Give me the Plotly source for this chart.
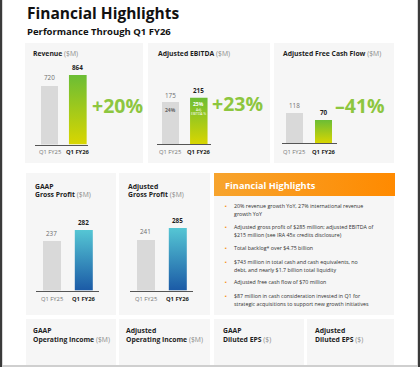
import plotly.graph_objects as go

W, H = 420, 367
def X(p): return p / W
def Y(p): return 1 - p / H

FONT = "Open Sans"

# ---------------- data ----------------
periods = ["Q1 FY25", "Q1 FY26"]
revenue = [720, 864]
adj_ebitda = [175, 215]
adj_ebitda_margin = ["24%", "25%"]
adj_fcf = [118, 70]
gaap_gross_profit = [237, 282]
adj_gross_profit = [241, 285]
revenue_change = "+20%"
ebitda_change = "+23%"
fcf_change = "–41%"

highlights = [
    ["20% revenue growth YoY, 27% international revenue", "growth YoY"],
    ["Adjusted gross profit of $285 million; adjusted EBITDA of", "$215 million (see IRA 45x credits disclosure)"],
    ["Total backlog* over $4.75 billion"],
    ["$743 million in total cash and cash equivalents, no", "debt, and nearly $1.7 billion total liquidity"],
    ["Adjusted free cash flow of $70 million"],
    ["$87 million in cash consideration invested in Q1 for", "strategic acquisitions to support new growth initiatives"],
]

bottom_titles = [
    ("GAAP", "Operating Income", "($M)"),
    ("Adjusted", "Operating Income", "($M)"),
    ("GAAP", "Diluted EPS", "($)"),
    ("Adjusted", "Diluted EPS", "($)"),
]

# ---------------- styles ----------------
GRAY_BAR = "#d9d9d9"
GREEN_SCALE = [[0, "#d9d600"], [1, "#6bbd35"]]
BLUE_SCALE = [[0, "#1b5aa6"], [1, "#55c6d4"]]
GREEN_TXT = "#8dc63f"
PANEL = "#f6f6f6"
DARK = "#1e1e1e"
MUTED = "#8a8a8a"

charts = [
    dict(title=("Revenue", "($M)"), tx=31, ty=[54], data=revenue, change=revenue_change,
         chx=117, chy=105, scale=GREEN_SCALE,
         xl=35, xr=88, yb=144.5, c0=49.5, c1=77.8, bw=17.7, p0=85, p1=75, lbl=152),
    dict(title=("Adjusted EBITDA", "($M)"), tx=156, ty=[54], data=adj_ebitda, change=ebitda_change,
         chx=237, chy=104, scale=GREEN_SCALE,
         xl=157, xr=211, yb=144.3, c0=170.3, c1=198.8, bw=17.5, p0=102.7, p1=97.7, lbl=152),
    dict(title=("Adjusted Free Cash Flow", "($M)"), tx=281, ty=[54], data=adj_fcf, change=fcf_change,
         chx=360, chy=105, scale=GREEN_SCALE,
         xl=282, xr=337, yb=143.3, c0=294.2, c1=323.5, bw=17, p0=113, p1=120, lbl=152),
    dict(title=("GAAP", "Gross Profit", "($M)"), tx=33, ty=[186, 194], data=gaap_gross_profit, change=None,
         scale=BLUE_SCALE,
         xl=36, xr=99, yb=290.5, c0=51.7, c1=83.8, bw=18, p0=240.7, p1=230, lbl=299),
    dict(title=("Adjusted", "Gross Profit", "($M)"), tx=126, ty=[186, 194], data=adj_gross_profit, change=None,
         scale=BLUE_SCALE,
         xl=130, xr=193, yb=290.5, c0=145.8, c1=177.8, bw=18, p0=239, p1=228, lbl=299),
]

fig = go.Figure()
shapes = []
annotations = []

# page frame
shapes.append(dict(type="rect", xref="paper", yref="paper", x0=X(0), x1=X(2.2), y0=Y(367), y1=Y(0),
                   fillcolor="#3a3a3a", line_width=0, layer="below"))
shapes.append(dict(type="rect", xref="paper", yref="paper", x0=X(417.8), x1=X(420), y0=Y(367), y1=Y(0),
                   fillcolor="#3a3a3a", line_width=0, layer="below"))
shapes.append(dict(type="rect", xref="paper", yref="paper", x0=X(2), x1=X(418), y0=Y(367), y1=Y(365),
                   fillcolor="#cfcfcf", line_width=0, layer="below"))

panels = [(25, 43, 143, 163), (148, 43, 270, 163), (274, 43, 394, 163),
          (26, 173, 116, 315), (119, 173, 210, 315), (214, 173, 394, 315),
          (26, 319, 116, 365), (119, 319, 210, 365), (214, 319, 304, 365), (307, 319, 394, 365)]
for (a, b, c, d) in panels:
    shapes.append(dict(type="rect", xref="paper", yref="paper", x0=X(a), x1=X(c), y0=Y(d), y1=Y(b),
                       fillcolor=PANEL, line_width=0, layer="below"))

# page titles
annotations.append(dict(text="<b>Financial Highlights</b>", x=X(25), y=Y(12.5), xref="paper", yref="paper",
                        xanchor="left", yanchor="middle", showarrow=False,
                        font=dict(family=FONT, size=15.5, color="#111")))
annotations.append(dict(text="<b>Performance Through Q1 FY26</b>", x=X(25), y=Y(31), xref="paper", yref="paper",
                        xanchor="left", yanchor="middle", showarrow=False,
                        font=dict(family=FONT, size=9.5, color="#111")))

def title_ann(x, ys, parts):
    if len(ys) == 1:
        lines = [f"<b>{parts[0]}</b> <span style='color:{MUTED}'>{parts[1]}</span>"]
    else:
        lines = [f"<b>{parts[0]}</b>", f"<b>{parts[1]}</b> <span style='color:{MUTED}'>{parts[2]}</span>"]
    for yy, t in zip(ys, lines):
        annotations.append(dict(text=t, x=X(x), y=Y(yy), xref="paper", yref="paper",
                                xanchor="left", yanchor="middle", showarrow=False,
                                font=dict(family=FONT, size=6.8, color=DARK)))

layout_axes = {}
for i, ch in enumerate(charts):
    n = i + 1
    xa = "x" if n == 1 else f"x{n}"
    ya = "y" if n == 1 else f"y{n}"
    v0, v1 = ch["data"]
    unit = ch["c1"] - ch["c0"]
    k = (ch["p0"] - ch["p1"]) / (v1 - v0)
    base = v1 - (ch["yb"] - ch["p1"]) / k
    yt = ch["yb"] - 80
    w = ch["bw"] / unit
    layout_axes["xaxis" if n == 1 else f"xaxis{n}"] = dict(
        domain=[X(ch["xl"]), X(ch["xr"])], range=[(ch["xl"] - ch["c0"]) / unit, (ch["xr"] - ch["c0"]) / unit],
        anchor=ya, showgrid=False, zeroline=False, showticklabels=False, ticks="",
        showline=True, linecolor="#555", linewidth=1, fixedrange=True)
    layout_axes["yaxis" if n == 1 else f"yaxis{n}"] = dict(
        domain=[Y(ch["yb"]), Y(yt)], range=[base, base + (ch["yb"] - yt) / k],
        anchor=xa, showgrid=False, zeroline=False, showticklabels=False, ticks="", showline=False,
        fixedrange=True)

    fig.add_trace(go.Bar(x=[0], y=[v0 - base], base=[base], width=[w], marker_color=GRAY_BAR,
                         marker_line_width=0, xaxis=xa, yaxis=ya, showlegend=False, hoverinfo="skip"))
    fig.add_trace(go.Scatter(x=[1 - w / 2, 1 + w / 2, 1 + w / 2, 1 - w / 2, 1 - w / 2],
                             y=[base, base, v1, v1, base], mode="lines", fill="toself",
                             line=dict(width=0), fillgradient=dict(type="vertical", colorscale=ch["scale"]),
                             xaxis=xa, yaxis=ya, showlegend=False, hoverinfo="skip"))
    # value labels
    annotations.append(dict(text=str(v0), x=0, y=v0, xref=xa, yref=ya, xanchor="center", yanchor="bottom",
                            yshift=1, showarrow=False, font=dict(family=FONT, size=6.3, color="#6e6e6e")))
    annotations.append(dict(text=f"<b>{v1}</b>", x=1, y=v1, xref=xa, yref=ya, xanchor="center", yanchor="bottom",
                            yshift=1, showarrow=False, font=dict(family=FONT, size=6.3, color=DARK)))
    # category labels
    annotations.append(dict(text=periods[0], x=0, y=Y(ch["lbl"]), xref=xa, yref="paper", xanchor="center",
                            yanchor="middle", showarrow=False, font=dict(family=FONT, size=5.8, color="#777")))
    annotations.append(dict(text=f"<b>{periods[1]}</b>", x=1, y=Y(ch["lbl"]), xref=xa, yref="paper",
                            xanchor="center", yanchor="middle", showarrow=False,
                            font=dict(family=FONT, size=5.8, color=DARK)))
    title_ann(ch["tx"], ch["ty"], ch["title"])
    if ch["change"]:
        annotations.append(dict(text=f"<b>{ch['change']}</b>", x=X(ch["chx"]), y=Y(ch["chy"]), xref="paper",
                                yref="paper", xanchor="center", yanchor="middle", showarrow=False,
                                font=dict(family=FONT, size=19.5, color=GREEN_TXT)))
    if n == 2:
        annotations.append(dict(text=f"<b>{adj_ebitda_margin[0]}</b>", x=0, y=Y(110), xref=xa, yref="paper",
                                xanchor="center", yanchor="middle", showarrow=False,
                                font=dict(family=FONT, size=5, color="#666")))
        annotations.append(dict(text=f"<b>{adj_ebitda_margin[1]}</b>", x=1, y=Y(104.3), xref=xa, yref="paper",
                                xanchor="center", yanchor="middle", showarrow=False,
                                font=dict(family=FONT, size=5, color="white")))
        annotations.append(dict(text="Adj.", x=1, y=Y(109.5), xref=xa, yref="paper",
                                xanchor="center", yanchor="middle", showarrow=False,
                                font=dict(family=FONT, size=3.4, color="white")))
        annotations.append(dict(text="EBITDA %", x=1, y=Y(113.5), xref=xa, yref="paper",
                                xanchor="center", yanchor="middle", showarrow=False,
                                font=dict(family=FONT, size=3.4, color="white")))

# highlights box header
fig.add_trace(go.Scatter(x=[X(214), X(395), X(395), X(214), X(214)], y=[Y(196), Y(196), Y(173), Y(173), Y(196)],
                         xaxis="x6", yaxis="y6", mode="lines", fill="toself", line=dict(width=0),
                         fillgradient=dict(type="horizontal", colorscale=[[0, "#f7a42e"], [1, "#ff8a00"]]),
                         showlegend=False, hoverinfo="skip"))
layout_axes["xaxis6"] = dict(domain=[0, 1], range=[0, 1], anchor="y6", visible=False, fixedrange=True)
layout_axes["yaxis6"] = dict(domain=[0, 1], range=[0, 1], anchor="x6", visible=False, fixedrange=True)

annotations.append(dict(text="<b>Financial Highlights</b>", x=X(223), y=Y(185), xref="paper", yref="paper",
                        xanchor="left", yanchor="middle", showarrow=False,
                        font=dict(family=FONT, size=9.2, color="white")))

y0_list = [205.7, 226.7, 248.3, 261.7, 282.3, 295.7]
for item, yy in zip(highlights, y0_list):
    annotations.append(dict(text="▪", x=X(226), y=Y(yy), xref="paper", yref="paper", xanchor="center",
                            yanchor="middle", showarrow=False, font=dict(family=FONT, size=5.5, color="#f7941d")))
    for j, line in enumerate(item):
        annotations.append(dict(text=line, x=X(231.5), y=Y(yy + j * 7.8), xref="paper", yref="paper",
                                xanchor="left", yanchor="middle", showarrow=False,
                                font=dict(family=FONT, size=5.3, color="#303030")))

# bottom row titles
for (a, b, c), xx in zip(bottom_titles, [31, 124.3, 220.7, 313.3]):
    title_ann(xx, [330.7, 339.3], (a, b, c))

fig.update_layout(width=W, height=H, margin=dict(l=0, r=0, t=0, b=0), paper_bgcolor="white",
                  plot_bgcolor="rgba(0,0,0,0)", shapes=shapes, annotations=annotations,
                  bargap=0, showlegend=False, **layout_axes)

fig.write_html("out.html", config={"displayModeBar": False},
               post_script="document.body.style.margin='0';document.body.style.overflow='hidden';")
